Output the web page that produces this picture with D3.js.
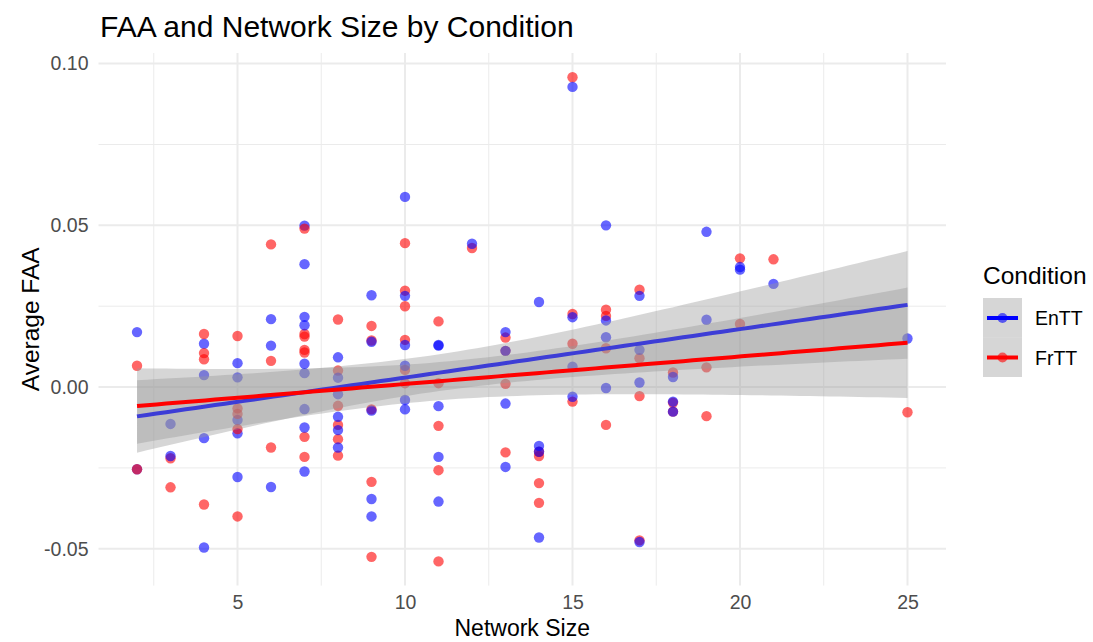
<!DOCTYPE html>
<html>
<head>
<meta charset="utf-8">
<script src="https://cdn.jsdelivr.net/npm/d3@7"></script>
<style>
  body { margin: 0; background: #fff; }
  svg text { font-family: "Liberation Sans", Arial, Helvetica, sans-serif; }
</style>
</head>
<body>
<svg id="chart" width="1093" height="642"></svg>
<script>
// network size (x) and average FAA (y)
var enttX = [2,2, 3,3, 4,4,4,4, 5,5,5,5,5, 6,6,6, 7,7,7,7,7,7,7,7,7, 8,8,8,8,8,8,
             9,9,9,9,9, 10,10,10,10,10,10, 11,11,11,11,11, 12, 13,13,13,13, 14,14,14,14,
             15,15,15,15, 16,16,16,16, 17,17,17,17, 18,18,18, 19,19, 20,20, 21, 25];
var enttY = [0.017,-0.0254, -0.0114,-0.0213, 0.0134,0.0037,-0.0158,-0.0496,
             0.0074,0.003,-0.0102,-0.0143,-0.0278, 0.021,0.0128,-0.0309,
             0.0499,0.038,0.0217,0.0191,0.0072,0.0043,-0.0068,-0.0125,-0.0261,
             0.0092,0.0029,-0.0022,-0.0092,-0.0133,-0.0187,
             0.0284,0.014,-0.0073,-0.0346,-0.040, 0.0588,0.0282,0.013,0.0066,-0.004,-0.0069,
             0.013,0.0128,-0.0059,-0.0216,-0.0354, 0.0443, 0.017,0.0112,-0.0051,-0.0247,
             0.0263,-0.0182,-0.020,-0.0465, 0.0928,0.0216,0.0063,-0.003,
             0.05,0.0206,0.0154,-0.0003, 0.0282,0.0115,0.0014,-0.0479,
             0.0031,-0.0045,-0.0076, 0.048,0.0208, 0.0371,0.0363, 0.0319, 0.015];

var frttX = [2,2, 3,3, 4,4,4,4, 5,5,5,5,5, 6,6,6, 7,7,7,7,7,7,7, 8,8,8,8,8,8,
             9,9,9,9,9, 10,10,10,10,10,10, 11,11,11,11,11, 12, 13,13,13,13, 14,14,14,14,
             15,15,15,15, 16,16,16,16, 17,17,17,17, 18,18,18, 19,19, 20,20, 21, 25];
var frttY = [0.0066,-0.0254, -0.022,-0.031, 0.0164,0.0105,0.0086,-0.0363,
             0.0158,-0.0066,-0.0083,-0.013,-0.040, 0.0441,0.0081,-0.0187,
             0.049,0.0164,0.0156,0.0115,0.0107,-0.0154,-0.0216,
             0.0209,0.0051,-0.0058,-0.0117,-0.0161,-0.0212,
             0.0189,0.0144,-0.0069,-0.0293,-0.0525, 0.0445,0.0298,0.025,0.0146,0.0053,0.0012,
             0.0203,0.0012,-0.012,-0.0257,-0.0539, 0.043, 0.0153,0.0112,0.001,-0.0202,
             -0.020,-0.0213,-0.0297,-0.0358, 0.0958,0.0226,0.0134,-0.0045,
             0.0239,0.022,0.012,-0.0117, 0.0301,0.0089,-0.0028,-0.0474,
             0.0045,-0.0048,-0.0076, 0.0061,-0.009, 0.0398,0.0195, 0.0395, -0.0078];

var conditions = ["EnTT", "FrTT"];
var condColors = ["#0000ff", "#ff0000"];
var xTicks = [5, 10, 15, 20, 25];
var yTicks = [-0.05, 0, 0.05, 0.10];
var yTickLabels = ["-0.05", "0.00", "0.05", "0.10"];

var svg = d3.select("#chart");
var margin = {left: 98.5, right: 147, top: 53, bottom: 56.4};
var W = 1093, H = 642;

var allX = enttX.concat(frttX), allY = enttY.concat(frttY);
var xr = d3.extent(allX), yr = d3.extent(allY);
var xpad = (xr[1] - xr[0]) * 0.05, ypad = (yr[1] - yr[0]) * 0.05;

var x = d3.scaleLinear().domain([xr[0] - xpad, xr[1] + xpad]).range([margin.left, W - margin.right]);
var y = d3.scaleLinear().domain([yr[0] - ypad, yr[1] + ypad]).range([H - margin.bottom, margin.top]);

// grid
var g = svg.append("g");
var xMinor = [2.5, 7.5, 12.5, 17.5, 22.5];
var yMinor = [-0.025, 0.025, 0.075];
g.selectAll(".xminor").data(xMinor).enter().append("line")
  .attr("x1", d => x(d)).attr("x2", d => x(d))
  .attr("y1", margin.top).attr("y2", H - margin.bottom)
  .attr("stroke", "#ebebeb").attr("stroke-width", 1);
g.selectAll(".yminor").data(yMinor).enter().append("line")
  .attr("y1", d => y(d)).attr("y2", d => y(d))
  .attr("x1", margin.left).attr("x2", W - margin.right)
  .attr("stroke", "#ebebeb").attr("stroke-width", 1);
g.selectAll(".xmajor").data(xTicks).enter().append("line")
  .attr("x1", d => x(d)).attr("x2", d => x(d))
  .attr("y1", margin.top).attr("y2", H - margin.bottom)
  .attr("stroke", "#ebebeb").attr("stroke-width", 2);
g.selectAll(".ymajor").data(yTicks).enter().append("line")
  .attr("y1", d => y(d)).attr("y2", d => y(d))
  .attr("x1", margin.left).attr("x2", W - margin.right)
  .attr("stroke", "#ebebeb").attr("stroke-width", 2);

// axes labels (no lines, ggplot minimal)
var xAxis = svg.append("g").attr("transform", "translate(0," + (H - margin.bottom) + ")")
  .call(d3.axisBottom(x).tickValues(xTicks).tickSize(0).tickPadding(10));
var yAxis = svg.append("g").attr("transform", "translate(" + margin.left + ",0)")
  .call(d3.axisLeft(y).tickValues(yTicks).tickSize(0).tickPadding(10)
    .tickFormat((d, i) => yTickLabels[i]));
[xAxis, yAxis].forEach(function(a) {
  a.select(".domain").remove();
  a.selectAll("text").attr("font-size", 19.5).attr("fill", "#4d4d4d")
    .style("font-family", "'Liberation Sans', Arial, sans-serif");
});

// points
var series = [
  {name: "EnTT", xs: enttX, ys: enttY, color: condColors[0]},
  {name: "FrTT", xs: frttX, ys: frttY, color: condColors[1]}
];
var pts = [];
var n = Math.max(enttX.length, frttX.length);
for (var i = 0; i < n; i++) {
  series.forEach(function(s) {
    if (i < s.xs.length) pts.push({x: s.xs[i], y: s.ys[i], color: s.color});
  });
}
svg.append("g").selectAll("circle").data(pts).enter().append("circle")
  .attr("cx", d => x(d.x)).attr("cy", d => y(d.y)).attr("r", 5.2)
  .attr("fill", d => d.color).attr("fill-opacity", 0.6);

// linear fit with 95% confidence band
function fit(xs, ys) {
  var nn = xs.length, mx = d3.mean(xs), my = d3.mean(ys);
  var sxx = d3.sum(xs, v => (v - mx) * (v - mx));
  var sxy = d3.sum(xs.map((v, k) => (v - mx) * (ys[k] - my)));
  var b = sxy / sxx, a = my - b * mx;
  var rss = d3.sum(xs.map((v, k) => Math.pow(ys[k] - (a + b * v), 2)));
  var se = Math.sqrt(rss / (nn - 2));
  var t = 1.992;
  var ext = d3.extent(xs);
  return d3.range(80).map(function(k) {
    var xv = ext[0] + (ext[1] - ext[0]) * k / 79;
    var yv = a + b * xv;
    var w = t * se * Math.sqrt(1 / nn + (xv - mx) * (xv - mx) / sxx);
    return {x: xv, y: yv, lo: yv - w, hi: yv + w};
  });
}

var area = d3.area().x(d => x(d.x)).y0(d => y(d.lo)).y1(d => y(d.hi));
var line = d3.line().x(d => x(d.x)).y(d => y(d.y));
series.forEach(function(s) {
  var f = fit(s.xs, s.ys);
  svg.append("path").datum(f).attr("d", area)
    .attr("fill", "#999999").attr("fill-opacity", 0.4);
  svg.append("path").datum(f).attr("d", line)
    .attr("fill", "none").attr("stroke", s.color).attr("stroke-width", 4);
});

// titles
svg.append("text").attr("x", 100).attr("y", 37).attr("font-size", 30)
  .attr("fill", "#000").text("FAA and Network Size by Condition");
svg.append("text").attr("x", (margin.left + W - margin.right) / 2).attr("y", 636)
  .attr("text-anchor", "middle").attr("font-size", 23).text("Network Size");
svg.append("text")
  .attr("transform", "translate(39," + ((margin.top + H - margin.bottom) / 2) + ") rotate(-90)")
  .attr("text-anchor", "middle").attr("font-size", 24.5).text("Average FAA");

// legend
var leg = svg.append("g").attr("transform", "translate(983,0)");
leg.append("text").attr("x", 0).attr("y", 284).attr("font-size", 24.5).text("Condition");
conditions.forEach(function(c, k) {
  var top = 298 + k * 39.5;
  leg.append("rect").attr("x", 0).attr("y", top).attr("width", 39).attr("height", 39.5)
    .attr("fill", "#999999").attr("fill-opacity", 0.4);
  leg.append("line").attr("x1", 4).attr("x2", 35).attr("y1", top + 20).attr("y2", top + 20)
    .attr("stroke", condColors[k]).attr("stroke-width", 4);
  leg.append("circle").attr("cx", 19.5).attr("cy", top + 20).attr("r", 5)
    .attr("fill", condColors[k]).attr("fill-opacity", 0.6);
  leg.append("text").attr("x", 52).attr("y", top + 27).attr("font-size", 19.5).text(c);
});
</script>
</body>
</html>
